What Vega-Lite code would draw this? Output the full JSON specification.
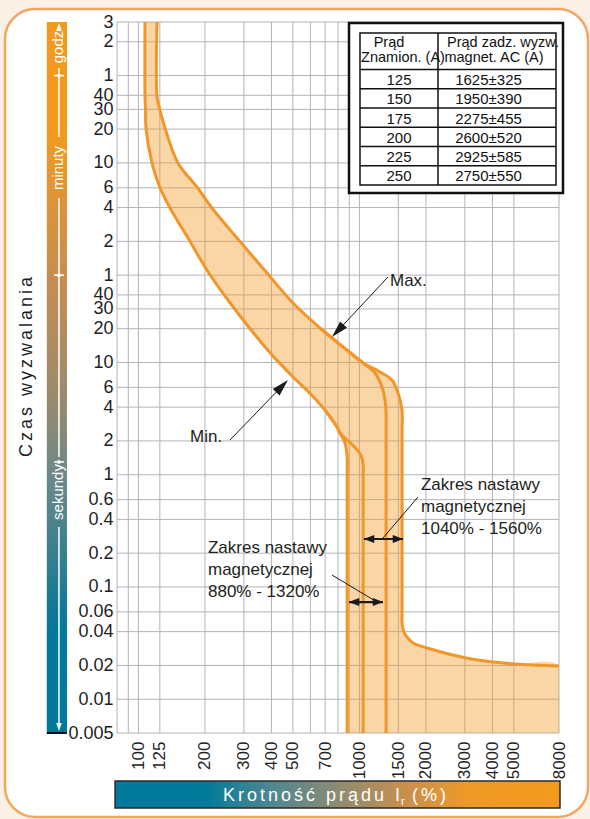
{
  "$schema": "https://vega.github.io/schema/vega-lite/v6.json",
  "width": 442,
  "height": 711,
  "autosize": {"type": "none"},
  "padding": {"left": 117, "top": 22, "right": 31, "bottom": 86},
  "config": {
    "background": "#fcf1e6",
    "view": {"stroke": null},
    "font": "Liberation Sans"
  },
  "datasets": {
    "frame": [{"x": 24.9, "x2": 10824, "y": 14100, "y2": 0.000892}],
    "lbar": [{"x": 38.5, "x2": 47.5, "y": 10800, "y2": 0.005}],
    "bbar": [{"x": 78.4, "x2": 8083, "y": 0.001867, "y2": 0.0010729}],
    "vgrid": [
      {"x": 80, "y": 10800, "y2": 0.005}, {"x": 90, "y": 10800, "y2": 0.005}, {"x": 100, "y": 10800, "y2": 0.005},
      {"x": 125, "y": 10800, "y2": 0.005}, {"x": 200, "y": 10800, "y2": 0.005}, {"x": 300, "y": 10800, "y2": 0.005},
      {"x": 400, "y": 10800, "y2": 0.005}, {"x": 500, "y": 10800, "y2": 0.005}, {"x": 600, "y": 10800, "y2": 0.005},
      {"x": 700, "y": 10800, "y2": 0.005}, {"x": 800, "y": 10800, "y2": 0.005}, {"x": 900, "y": 10800, "y2": 0.005},
      {"x": 1000, "y": 10800, "y2": 0.005}, {"x": 1500, "y": 10800, "y2": 0.005}, {"x": 2000, "y": 10800, "y2": 0.005},
      {"x": 3000, "y": 10800, "y2": 0.005}, {"x": 4000, "y": 10800, "y2": 0.005}, {"x": 5000, "y": 10800, "y2": 0.005},
      {"x": 8000, "y": 10800, "y2": 0.005}
    ],
    "hgrid": [
      {"y": 10800, "x": 80, "x2": 8000}, {"y": 7200, "x": 80, "x2": 8000}, {"y": 3600, "x": 80, "x2": 8000},
      {"y": 2400, "x": 80, "x2": 8000}, {"y": 1800, "x": 80, "x2": 8000}, {"y": 1200, "x": 80, "x2": 8000},
      {"y": 600, "x": 80, "x2": 8000}, {"y": 360, "x": 80, "x2": 8000}, {"y": 240, "x": 80, "x2": 8000},
      {"y": 120, "x": 80, "x2": 8000}, {"y": 60, "x": 80, "x2": 8000}, {"y": 40, "x": 80, "x2": 8000},
      {"y": 30, "x": 80, "x2": 8000}, {"y": 20, "x": 80, "x2": 8000}, {"y": 10, "x": 80, "x2": 8000},
      {"y": 6, "x": 80, "x2": 8000}, {"y": 4, "x": 80, "x2": 8000}, {"y": 2, "x": 80, "x2": 8000},
      {"y": 1, "x": 80, "x2": 8000}, {"y": 0.6, "x": 80, "x2": 8000}, {"y": 0.4, "x": 80, "x2": 8000},
      {"y": 0.2, "x": 80, "x2": 8000}, {"y": 0.1, "x": 80, "x2": 8000}, {"y": 0.06, "x": 80, "x2": 8000},
      {"y": 0.04, "x": 80, "x2": 8000}, {"y": 0.02, "x": 80, "x2": 8000}, {"y": 0.01, "x": 80, "x2": 8000},
      {"y": 0.005, "x": 80, "x2": 8000}
    ],
    "band": [
      {"y": 10800, "x": 107.1, "x2": 121.4},
      {"y": 2320, "x": 107.1, "x2": 121.4},
      {"y": 1776, "x": 107.7, "x2": 125.2},
      {"y": 1227, "x": 108.2, "x2": 131.9},
      {"y": 598.6, "x": 115.2, "x2": 151.0},
      {"y": 365.9, "x": 124.8, "x2": 184.1},
      {"y": 237.9, "x": 139.0, "x2": 215.2},
      {"y": 128.5, "x": 167.7, "x2": 279.3},
      {"y": 62.67, "x": 208.2, "x2": 381.8},
      {"y": 33.87, "x": 260.3, "x2": 500.6},
      {"y": 20.28, "x": 318.2, "x2": 663.1},
      {"y": 11.66, "x": 402.3, "x2": 935.5},
      {"y": 9.89, "x": 435.4, "x2": 1040},
      {"y": 8.224, "x": 476.2, "x2": 1239},
      {"y": 6.978, "x": 517, "x2": 1404},
      {"y": 5.346, "x": 595, "x2": 1495},
      {"y": 3.771, "x": 698.6, "x2": 1559},
      {"y": 2.661, "x": 791.7, "x2": 1560},
      {"y": 2.353, "x": 816.8, "x2": 1560},
      {"y": 1.917, "x": 860.6, "x2": 1560},
      {"y": 1.438, "x": 880, "x2": 1560},
      {"y": 1.0, "x": 880, "x2": 1560},
      {"y": 0.06, "x": 880, "x2": 1560},
      {"y": 0.0477, "x": 880, "x2": 1560},
      {"y": 0.0397, "x": 880, "x2": 1591},
      {"y": 0.0358, "x": 880, "x2": 1642},
      {"y": 0.0317, "x": 880, "x2": 1748},
      {"y": 0.0286, "x": 880, "x2": 2022},
      {"y": 0.0233, "x": 880, "x2": 3036},
      {"y": 0.02145, "x": 880, "x2": 4022},
      {"y": 0.0206, "x": 880, "x2": 5058},
      {"y": 0.0198, "x": 880, "x2": 8000},
      {"y": 0.005, "x": 880, "x2": 8000}
    ],
    "curves": [
      {"c": "min", "y": 10800, "x": 107.1}, {"c": "min", "y": 2320, "x": 107.1}, {"c": "min", "y": 1776, "x": 107.7},
      {"c": "min", "y": 1227, "x": 108.2}, {"c": "min", "y": 598.6, "x": 115.2}, {"c": "min", "y": 365.9, "x": 124.8},
      {"c": "min", "y": 237.9, "x": 139.0}, {"c": "min", "y": 128.5, "x": 167.7}, {"c": "min", "y": 62.67, "x": 208.2},
      {"c": "min", "y": 33.87, "x": 260.3}, {"c": "min", "y": 20.28, "x": 318.2}, {"c": "min", "y": 11.66, "x": 402.3},
      {"c": "min", "y": 9.89, "x": 435.4}, {"c": "min", "y": 8.224, "x": 476.2}, {"c": "min", "y": 6.978, "x": 517},
      {"c": "min", "y": 5.346, "x": 595}, {"c": "min", "y": 3.771, "x": 698.6}, {"c": "min", "y": 2.661, "x": 791.7},
      {"c": "min", "y": 2.353, "x": 816.8}, {"c": "min", "y": 1.917, "x": 860.6}, {"c": "min", "y": 1.438, "x": 880},
      {"c": "min", "y": 1.0, "x": 880}, {"c": "min", "y": 0.06, "x": 880}, {"c": "min", "y": 0.005, "x": 880},
      {"c": "max", "y": 10800, "x": 121.4}, {"c": "max", "y": 2320, "x": 121.4}, {"c": "max", "y": 1776, "x": 125.2},
      {"c": "max", "y": 1227, "x": 131.9}, {"c": "max", "y": 598.6, "x": 151.0}, {"c": "max", "y": 365.9, "x": 184.1},
      {"c": "max", "y": 237.9, "x": 215.2}, {"c": "max", "y": 128.5, "x": 279.3}, {"c": "max", "y": 62.67, "x": 381.8},
      {"c": "max", "y": 33.87, "x": 500.6}, {"c": "max", "y": 20.28, "x": 663.1}, {"c": "max", "y": 11.66, "x": 935.5},
      {"c": "max", "y": 9.89, "x": 1040}, {"c": "max", "y": 8.224, "x": 1239}, {"c": "max", "y": 6.978, "x": 1404},
      {"c": "max", "y": 5.346, "x": 1495}, {"c": "max", "y": 3.771, "x": 1559}, {"c": "max", "y": 2.661, "x": 1560},
      {"c": "max", "y": 2.353, "x": 1560}, {"c": "max", "y": 1.917, "x": 1560}, {"c": "max", "y": 1.438, "x": 1560},
      {"c": "max", "y": 1.0, "x": 1560}, {"c": "max", "y": 0.06, "x": 1560}, {"c": "max", "y": 0.0477, "x": 1560},
      {"c": "max", "y": 0.0397, "x": 1591}, {"c": "max", "y": 0.0358, "x": 1642}, {"c": "max", "y": 0.0317, "x": 1748},
      {"c": "max", "y": 0.0286, "x": 2022}, {"c": "max", "y": 0.0233, "x": 3036}, {"c": "max", "y": 0.02145, "x": 4022},
      {"c": "max", "y": 0.0206, "x": 5058}, {"c": "max", "y": 0.0198, "x": 8000},
      {"c": "i1320", "y": 20.28, "x": 663.1}, {"c": "i1320", "y": 11.66, "x": 935.5}, {"c": "i1320", "y": 9.89, "x": 1040},
      {"c": "i1320", "y": 8.057, "x": 1176}, {"c": "i1320", "y": 6.047, "x": 1265}, {"c": "i1320", "y": 4.631, "x": 1306},
      {"c": "i1320", "y": 3.545, "x": 1320}, {"c": "i1320", "y": 2.5, "x": 1320}, {"c": "i1320", "y": 0.005, "x": 1320},
      {"c": "i1040", "y": 3.771, "x": 698.6}, {"c": "i1040", "y": 2.661, "x": 791.7}, {"c": "i1040", "y": 2.353, "x": 816.8},
      {"c": "i1040", "y": 1.765, "x": 950}, {"c": "i1040", "y": 1.5, "x": 1015}, {"c": "i1040", "y": 1.2, "x": 1040},
      {"c": "i1040", "y": 1.0, "x": 1040}, {"c": "i1040", "y": 0.005, "x": 1040}
    ],
    "thinlines": [
      {"x": 1347, "y": 57.75, "x2": 798, "y2": 19.15},
      {"x": 259.6, "y": 2.038, "x2": 446.8, "y2": 6.16},
      {"x": 1840.9, "y": 0.633, "x2": 1278.6, "y2": 0.273},
      {"x": 751.5, "y": 0.12774, "x2": 1201, "y2": 0.07342}
    ],
    "dlines": [
      {"x": 1049, "x2": 1574.9, "y": 0.2674},
      {"x": 897.3, "x2": 1278.6, "y": 0.07342}
    ],
    "bigheads": [
      {"x": 798, "y": 19.15, "a": 223},
      {"x": 446.8, "y": 6.16, "a": 44}
    ],
    "smallheads": [
      {"x": 1105, "y": 0.2674, "a": 270},
      {"x": 1495, "y": 0.2674, "a": 90},
      {"x": 945.2, "y": 0.07342, "a": 270},
      {"x": 1213.7, "y": 0.07342, "a": 90}
    ],
    "notes": [
      {"x": 1375, "y": 53.2, "t": "Max."},
      {"x": 171.2, "y": 2.168, "t": "Min."},
      {"x": 1899, "y": 0.8097, "t": "Zakres nastawy"},
      {"x": 1899, "y": 0.5156, "t": "magnetycznej"},
      {"x": 1899, "y": 0.3284, "t": "1040% - 1560%"},
      {"x": 206.4, "y": 0.2223, "t": "Zakres nastawy"},
      {"x": 206.4, "y": 0.14158, "t": "magnetycznej"},
      {"x": 206.4, "y": 0.09017, "t": "880% - 1320%"}
    ],
    "tbox": [{"x": 897.3, "x2": 8340, "y": 10581, "y2": 323.5}],
    "tinner": [{"x": 1006, "x2": 7754, "y": 8618, "y2": 381.2}],
    "thl": [
      {"y": 4076.7, "x": 1006, "x2": 7754}, {"y": 2745.9, "x": 1006, "x2": 7754}, {"y": 1850.2, "x": 1006, "x2": 7754},
      {"y": 1246.2, "x": 1006, "x2": 7754}, {"y": 839.7, "x": 1006, "x2": 7754}, {"y": 565.9, "x": 1006, "x2": 7754}
    ],
    "tvl": [{"x": 2268, "y": 8618, "y2": 381.2}],
    "ttext": [
      {"x": 1360.8, "y": 6466, "t": "Prąd"},
      {"x": 1574.9, "y": 4751.7, "t": "Znamion. (A)"},
      {"x": 4464, "y": 6466, "t": "Prąd zadz. wyzw."},
      {"x": 4064, "y": 4751.7, "t": "magnet. AC (A)"}
    ],
    "trows": [
      {"x": 1510.6, "y": 3279.6, "t": "125"}, {"x": 3837.7, "y": 3279.6, "t": "1625±325"},
      {"x": 1510.6, "y": 2206.9, "t": "150"}, {"x": 3837.7, "y": 2206.9, "t": "1950±390"},
      {"x": 1510.6, "y": 1488.4, "t": "175"}, {"x": 3837.7, "y": 1488.4, "t": "2275±455"},
      {"x": 1510.6, "y": 1001.9, "t": "200"}, {"x": 3837.7, "y": 1001.9, "t": "2600±520"},
      {"x": 1510.6, "y": 675.5, "t": "225"}, {"x": 3837.7, "y": 675.5, "t": "2925±585"},
      {"x": 1510.6, "y": 454.8, "t": "250"}, {"x": 3837.7, "y": 454.8, "t": "2750±550"}
    ],
    "wlines": [
      {"x": 43.7, "y": 4204, "y2": 1020.6},
      {"x": 43.7, "y": 292, "y2": 1.438},
      {"x": 43.7, "y": 0.3421, "y2": 0.00589}
    ],
    "wcross": [
      {"x": 41.5, "x2": 46.1, "y": 3600},
      {"x": 41.5, "x2": 46.1, "y": 60},
      {"x": 41.5, "x2": 46.1, "y": 1.3}
    ],
    "wdots": [
      {"x": 43.7, "y": 3600}, {"x": 43.7, "y": 60}, {"x": 43.7, "y": 1.3}
    ],
    "wheads": [
      {"x": 43.7, "y": 9748, "a": 0},
      {"x": 43.7, "y": 0.005653, "a": 180}
    ],
    "bartext": [
      {"x": 43.2, "y": 6466, "t": "godz"},
      {"x": 43.2, "y": 540.4, "t": "minuty"},
      {"x": 43.2, "y": 0.7016, "t": "sekundy"}
    ],
    "barbase": [{"x": 38.5, "x2": 47.5, "y": 0.005}],
    "ytitle": [{"x": 31.3, "y": 9.113, "t": "C\u2006z\u2006a\u2006s\u2006 \u2006w\u2006y\u2006z\u2006w\u2006a\u2006l\u2006a\u2006n\u2006i\u2006a"}],
    "xt1": [{"x": 1526, "y": 0.0012389, "t": "K\u2006r\u2006o\u2006t\u2006n\u2006o\u2006ś\u2006ć\u2006 \u2006p\u2006r\u2006ą\u2006d\u2006u\u2006 \u2006I"}],
    "xt2": [{"x": 1542, "y": 0.001141, "t": "r"}],
    "xt3": [{"x": 1730, "y": 0.0012389, "t": "(\u2006%\u2006)"}]
  },
  "encoding": {
    "x": {
      "field": "x",
      "type": "quantitative",
      "scale": {"type": "log", "domain": [80, 8000], "nice": false},
      "axis": {
        "values": [100, 125, 200, 300, 400, 500, 700, 1000, 1500, 2000, 3000, 4000, 5000, 8000],
        "format": "d",
        "labelAngle": 270,
        "labelFont": "Liberation Sans Narrow, Liberation Sans",
        "labelFontSize": 17,
        "labelColor": "#1e1e1e",
        "labelPadding": 8,
        "labelFlush": false,
        "labelOverlap": false,
        "ticks": false,
        "domain": false,
        "grid": false,
        "title": null,
        "zindex": 1
      }
    },
    "y": {
      "field": "y",
      "type": "quantitative",
      "scale": {"type": "log", "domain": [0.005, 10800], "nice": false},
      "axis": {
        "values": [10800, 7200, 3600, 2400, 1800, 1200, 600, 360, 240, 120, 60, 40, 30, 20, 10, 6, 4, 2, 1, 0.6, 0.4, 0.2, 0.1, 0.06, 0.04, 0.02, 0.01, 0.005],
        "labelExpr": "datum.value >= 3600 ? '' + (datum.value / 3600) : datum.value >= 60 ? '' + (datum.value / 60) : '' + datum.value",
        "labelFont": "Liberation Sans Narrow, Liberation Sans",
        "labelFontSize": 18,
        "labelColor": "#1e1e1e",
        "labelPadding": 4,
        "labelFlush": false,
        "labelOverlap": false,
        "ticks": false,
        "domain": false,
        "grid": false,
        "title": null,
        "zindex": 1
      }
    }
  },
  "layer": [
    {
      "data": {"name": "frame"},
      "mark": {"type": "rect", "fill": "#ffffff", "stroke": "#f5a55c", "strokeWidth": 2.5, "cornerRadius": 30},
      "encoding": {"x2": {"field": "x2"}, "y2": {"field": "y2"}}
    },
    {
      "data": {"name": "lbar"},
      "mark": {
        "type": "rect",
        "fill": {
          "gradient": "linear", "x1": 0, "y1": 0, "x2": 0, "y2": 1,
          "stops": [
            {"offset": 0, "color": "#f39a1e"},
            {"offset": 0.15, "color": "#f39a1e"},
            {"offset": 0.36, "color": "#c58e52"},
            {"offset": 0.53, "color": "#9a8a6e"},
            {"offset": 0.65, "color": "#67888a"},
            {"offset": 0.8, "color": "#1e7b92"},
            {"offset": 0.86, "color": "#00789a"},
            {"offset": 1, "color": "#00789a"}
          ]
        }
      },
      "encoding": {"x2": {"field": "x2"}, "y2": {"field": "y2"}}
    },
    {
      "data": {"name": "barbase"},
      "mark": {"type": "rule", "color": "#111111", "strokeWidth": 2},
      "encoding": {"x2": {"field": "x2"}}
    },
    {
      "data": {"name": "bbar"},
      "mark": {
        "type": "rect",
        "stroke": "#2a2a2a",
        "strokeWidth": 1.5,
        "fill": {
          "gradient": "linear", "x1": 0, "y1": 0, "x2": 1, "y2": 0,
          "stops": [
            {"offset": 0, "color": "#007a9a"},
            {"offset": 0.2, "color": "#007a9a"},
            {"offset": 0.35, "color": "#4f8790"},
            {"offset": 0.5, "color": "#8d8b72"},
            {"offset": 0.65, "color": "#c88f4e"},
            {"offset": 0.8, "color": "#ef9a25"},
            {"offset": 1, "color": "#f39a1e"}
          ]
        }
      },
      "encoding": {"x2": {"field": "x2"}, "y2": {"field": "y2"}}
    },
    {
      "data": {"name": "vgrid"},
      "mark": {"type": "rule", "color": "#b3b3bb", "strokeWidth": 1},
      "encoding": {"y2": {"field": "y2"}}
    },
    {
      "data": {"name": "hgrid"},
      "mark": {"type": "rule", "color": "#b3b3bb", "strokeWidth": 1},
      "encoding": {"x2": {"field": "x2"}}
    },
    {
      "data": {"name": "band"},
      "mark": {"type": "area", "orient": "horizontal", "interpolate": "catmull-rom", "color": "#f39a2b", "opacity": 0.42, "clip": true},
      "encoding": {"x2": {"field": "x2"}}
    },
    {
      "data": {"name": "curves"},
      "mark": {"type": "line", "interpolate": "catmull-rom", "color": "#f0962a", "strokeWidth": 3},
      "encoding": {
        "detail": {"field": "c"},
        "order": {"field": "y", "type": "quantitative"}
      }
    },
    {
      "data": {"name": "thinlines"},
      "mark": {"type": "rule", "color": "#1a1a1a", "strokeWidth": 1},
      "encoding": {"x2": {"field": "x2"}, "y2": {"field": "y2"}}
    },
    {
      "data": {"name": "dlines"},
      "mark": {"type": "rule", "color": "#1a1a1a", "strokeWidth": 2.2},
      "encoding": {"x2": {"field": "x2"}}
    },
    {
      "data": {"name": "bigheads"},
      "mark": {"type": "point", "shape": "M0,-1L-0.55,1L0.55,1Z", "filled": true, "color": "#1a1a1a", "opacity": 1, "size": 289, "strokeWidth": 0},
      "encoding": {"angle": {"field": "a", "type": "quantitative", "scale": null}}
    },
    {
      "data": {"name": "smallheads"},
      "mark": {"type": "point", "shape": "M0,-1L-0.75,1L0.75,1Z", "filled": true, "color": "#1a1a1a", "opacity": 1, "size": 110, "strokeWidth": 0},
      "encoding": {"angle": {"field": "a", "type": "quantitative", "scale": null}}
    },
    {
      "data": {"name": "notes"},
      "mark": {"type": "text", "align": "left", "baseline": "middle", "fontSize": 17, "color": "#231f20", "font": "Liberation Sans"},
      "encoding": {"text": {"field": "t"}}
    },
    {
      "data": {"name": "tbox"},
      "mark": {"type": "rect", "fill": "#ffffff", "stroke": "#111111", "strokeWidth": 2.5},
      "encoding": {"x2": {"field": "x2"}, "y2": {"field": "y2"}}
    },
    {
      "data": {"name": "tinner"},
      "mark": {"type": "rect", "fill": null, "stroke": "#111111", "strokeWidth": 1.5},
      "encoding": {"x2": {"field": "x2"}, "y2": {"field": "y2"}}
    },
    {
      "data": {"name": "thl"},
      "mark": {"type": "rule", "color": "#111111", "strokeWidth": 1.5},
      "encoding": {"x2": {"field": "x2"}}
    },
    {
      "data": {"name": "tvl"},
      "mark": {"type": "rule", "color": "#111111", "strokeWidth": 1.5},
      "encoding": {"y2": {"field": "y2"}}
    },
    {
      "data": {"name": "ttext"},
      "mark": {"type": "text", "align": "center", "baseline": "alphabetic", "fontSize": 14.5, "color": "#111111", "font": "Liberation Sans"},
      "encoding": {"text": {"field": "t"}}
    },
    {
      "data": {"name": "trows"},
      "mark": {"type": "text", "align": "center", "baseline": "middle", "fontSize": 15, "color": "#111111", "font": "Liberation Sans"},
      "encoding": {"text": {"field": "t"}}
    },
    {
      "data": {"name": "wlines"},
      "mark": {"type": "rule", "color": "#ffffff", "strokeWidth": 1.5},
      "encoding": {"y2": {"field": "y2"}}
    },
    {
      "data": {"name": "wcross"},
      "mark": {"type": "rule", "color": "#ffffff", "strokeWidth": 1.5},
      "encoding": {"x2": {"field": "x2"}}
    },
    {
      "data": {"name": "wdots"},
      "mark": {"type": "point", "shape": "circle", "filled": true, "color": "#ffffff", "opacity": 1, "size": 14},
      "encoding": {}
    },
    {
      "data": {"name": "wheads"},
      "mark": {"type": "point", "shape": "M0,-1L-0.7,1L0.7,1Z", "filled": true, "color": "#ffffff", "opacity": 1, "size": 64, "strokeWidth": 0},
      "encoding": {"angle": {"field": "a", "type": "quantitative", "scale": null}}
    },
    {
      "data": {"name": "bartext"},
      "mark": {"type": "text", "align": "center", "baseline": "middle", "angle": 270, "fontSize": 15, "color": "#ffffff", "font": "Liberation Sans"},
      "encoding": {"text": {"field": "t"}}
    },
    {
      "data": {"name": "ytitle"},
      "mark": {"type": "text", "align": "center", "baseline": "middle", "angle": 270, "fontSize": 18, "color": "#1e1e1e", "font": "Liberation Sans"},
      "encoding": {"text": {"field": "t"}}
    },
    {
      "data": {"name": "xt1"},
      "mark": {"type": "text", "align": "right", "baseline": "alphabetic", "fontSize": 18, "color": "#ffffff", "font": "Liberation Sans"},
      "encoding": {"text": {"field": "t"}}
    },
    {
      "data": {"name": "xt2"},
      "mark": {"type": "text", "align": "left", "baseline": "alphabetic", "fontSize": 11, "color": "#ffffff", "font": "Liberation Sans"},
      "encoding": {"text": {"field": "t"}}
    },
    {
      "data": {"name": "xt3"},
      "mark": {"type": "text", "align": "left", "baseline": "alphabetic", "fontSize": 18, "color": "#ffffff", "font": "Liberation Sans"},
      "encoding": {"text": {"field": "t"}}
    }
  ]
}
